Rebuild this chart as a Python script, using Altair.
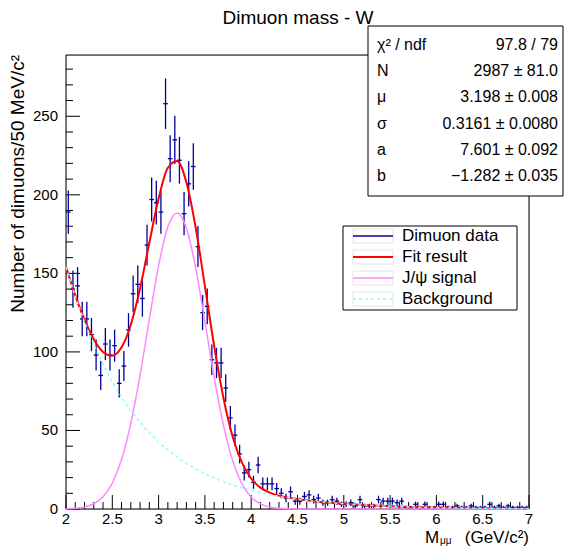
import altair as alt
import pandas as pd
import numpy as np

# ---------------- data ----------------
bin_low = 2.0
bin_width = 0.05
counts = [189, 140, 142, 121, 121, 111, 98, 85, 105, 98, 104, 80, 91, 114, 137, 143, 134, 168, 197, 195,
          189, 258, 223, 235, 222, 188, 207, 218, 167, 125, 129, 95, 93, 93, 77, 58, 47, 35, 23, 25,
          17, 28, 16, 16, 16, 13, 10, 7, 11, 5, 5, 8, 9, 6, 7, 4, 4, 6, 5, 3,
          3, 4, 2, 6, 2, 2, 2, 6, 5, 5, 5, 4, 5, 1, 1, 3, 1, 3, 1, 1,
          3, 3, 1, 1, 2, 1, 1, 2, 1, 1, 1, 3, 1, 2, 1, 2, 1, 1, 1, 1]

curve_x = [2.0, 2.1, 2.2, 2.3, 2.4, 2.5, 2.6, 2.7, 2.8, 2.9, 3.0, 3.1, 3.2, 3.3, 3.4, 3.5, 3.6,
           3.7, 3.8, 3.9, 4.0, 4.1, 4.2, 4.3, 4.4, 4.6, 4.8, 5.0, 5.25, 5.5, 5.75, 6.0, 6.5, 7.0]
fit_y = [154.1, 136.0, 120.5, 108.1, 100.0, 97.6, 102.9, 117.3, 140.5, 169.5, 197.6, 217.2, 221.6,
         208.0, 179.3, 141.9, 103.8, 70.8, 46.0, 29.5, 19.4, 13.6, 10.4, 8.5, 7.24,
         5.49, 4.25, 3.29, 2.39, 1.73, 1.26, 0.91, 0.48, 0.25]
signal_y = [0.14, 0.45, 1.29, 3.33, 7.78, 16.5, 31.5, 54.5, 85.3, 120.9, 154.9, 179.6, 188.5,
            178.9, 153.7, 119.4, 84.0, 53.4, 30.7, 16.0, 7.54, 3.22, 1.24, 0.43, 0.14,
            0, 0, 0, 0, 0, 0, 0, 0, 0]
background_y = [154.0, 135.5, 119.2, 104.8, 92.2, 81.1, 71.4, 62.8, 55.2, 48.6, 42.7, 37.6, 33.1,
                29.1, 25.6, 22.5, 19.8, 17.4, 15.3, 13.5, 11.9, 10.4, 9.18, 8.07, 7.10,
                5.49, 4.25, 3.29, 2.39, 1.73, 1.26, 0.91, 0.48, 0.25]

stat_names = ["χ² / ndf", "N", "μ", "σ", "a", "b"]
stat_values = ["97.8 / 79", "2987 ± 81.0", "3.198 ± 0.008", "0.3161 ± 0.0080",
               "7.601 ± 0.092", "−1.282 ± 0.035"]
legend_labels = ["Dimuon data", "Fit result", "J/ψ signal", "Background"]
legend_colors = ["#000099", "#ff0000", "#ff88ff", "#88ffff"]

x_major = [2, 2.5, 3, 3.5, 4, 4.5, 5, 5.5, 6, 6.5, 7]
x_labels = ["2", "2.5", "3", "3.5", "4", "4.5", "5", "5.5", "6", "6.5", "7"]
y_major = [0, 50, 100, 150, 200, 250]
y_labels = ["0", "50", "100", "150", "200", "250"]
title_text = "Dimuon mass - W"
y_title = "Number of dimuons/50 MeV/c²"

# ---------------- layout ----------------
W, H = 463, 454
FONT = "Liberation Sans"
DATA_BLUE = "#000099"

centers = bin_low + bin_width * (np.arange(len(counts)) + 0.5)
hist = pd.DataFrame({"x": centers, "n": counts})
hist["err"] = np.sqrt(hist["n"])
hist["lo"] = hist["n"] - hist["err"]
hist["hi"] = hist["n"] + hist["err"]
hist["xl"] = hist["x"] - bin_width / 2
hist["xr"] = hist["x"] + bin_width / 2

curves = pd.DataFrame({"x": curve_x, "fit": fit_y, "sig": signal_y, "bkg": background_y})

xs = alt.Scale(domain=[2, 7], nice=False, zero=False)
ys = alt.Scale(domain=[0, 289], nice=False, zero=True)

one = pd.DataFrame({"a": [0]})

frame = alt.Chart(one).mark_rect(fillOpacity=0, stroke="black", strokeWidth=1).encode(
    x=alt.value(0), x2=alt.value(W), y=alt.value(0), y2=alt.value(H))

# tick marks (inward, ROOT style)
x_minor = [round(v, 2) for v in np.arange(2.0, 7.0001, 0.1) if abs(v * 2 - round(v * 2)) > 1e-6]
y_minor = [v for v in range(0, 290, 10) if v % 50 != 0]
xt_major = alt.Chart(pd.DataFrame({"t": x_major})).mark_rule(color="black").encode(
    x=alt.X("t:Q", scale=xs, axis=None), y=alt.value(H), y2=alt.value(H - 14))
xt_minor = alt.Chart(pd.DataFrame({"t": x_minor})).mark_rule(color="black").encode(
    x=alt.X("t:Q", scale=xs, axis=None), y=alt.value(H), y2=alt.value(H - 7))
yt_major = alt.Chart(pd.DataFrame({"t": y_major})).mark_rule(color="black").encode(
    y=alt.Y("t:Q", scale=ys, axis=None), x=alt.value(0), x2=alt.value(14))
yt_minor = alt.Chart(pd.DataFrame({"t": y_minor})).mark_rule(color="black").encode(
    y=alt.Y("t:Q", scale=ys, axis=None), x=alt.value(0), x2=alt.value(7))

# tick labels
xlab = alt.Chart(pd.DataFrame({"t": x_major, "s": x_labels})).mark_text(
    font=FONT, fontSize=15, align="center", baseline="middle").encode(
    x=alt.X("t:Q", scale=xs, axis=None), y=alt.value(H + 10), text="s:N")
ylab = alt.Chart(pd.DataFrame({"t": y_major, "s": y_labels})).mark_text(
    font=FONT, fontSize=15, align="right", baseline="middle").encode(
    y=alt.Y("t:Q", scale=ys, axis=None), x=alt.value(-8), text="s:N")

# data error bars
vbars = alt.Chart(hist).mark_rule(color=DATA_BLUE, strokeWidth=1.3).encode(
    x=alt.X("x:Q", scale=xs, axis=None),
    y=alt.Y("lo:Q", scale=ys, axis=None), y2="hi:Q")
hbars = alt.Chart(hist).mark_rule(color=DATA_BLUE, strokeWidth=1.3).encode(
    x=alt.X("xl:Q", scale=xs, axis=None), x2="xr:Q",
    y=alt.Y("n:Q", scale=ys, axis=None))

fit_line = alt.Chart(curves).mark_line(color="#ff0000", strokeWidth=2, interpolate="monotone").encode(
    x=alt.X("x:Q", scale=xs, axis=None), y=alt.Y("fit:Q", scale=ys, axis=None))
sig_line = alt.Chart(curves).mark_line(color="#ff88ff", strokeWidth=1.5, interpolate="monotone").encode(
    x=alt.X("x:Q", scale=xs, axis=None), y=alt.Y("sig:Q", scale=ys, axis=None))
bkg_line = alt.Chart(curves).mark_line(color="#88ffff", strokeWidth=1.5, strokeDash=[3, 3],
                                       interpolate="monotone").encode(
    x=alt.X("x:Q", scale=xs, axis=None), y=alt.Y("bkg:Q", scale=ys, axis=None))

layers = [frame, xt_major, xt_minor, yt_major, yt_minor, xlab, ylab,
          vbars, hbars, fit_line, sig_line, bkg_line]

# title and axis titles
layers.append(alt.Chart(one).mark_text(text=title_text, font=FONT, fontSize=19, align="center",
                                       baseline="middle").encode(x=alt.value(232), y=alt.value(-37)))
layers.append(alt.Chart(one).mark_text(text=y_title, font=FONT, fontSize=19, align="right",
                                       baseline="middle", angle=270).encode(
    x=alt.value(-48), y=alt.value(0)))
layers.append(alt.Chart(one).mark_text(text="M", font=FONT, fontSize=17, align="left",
                                       baseline="middle").encode(x=alt.value(359), y=alt.value(483)))
layers.append(alt.Chart(one).mark_text(text="μμ", font=FONT, fontSize=10, align="left",
                                       baseline="middle").encode(x=alt.value(374), y=alt.value(486)))
layers.append(alt.Chart(one).mark_text(text="(GeV/c²)", font=FONT, fontSize=17, align="right",
                                       baseline="middle").encode(x=alt.value(W), y=alt.value(483)))

# stats box
layers.append(alt.Chart(one).mark_rect(fill="white", stroke="black", strokeWidth=1).encode(
    x=alt.value(302), x2=alt.value(497), y=alt.value(-29), y2=alt.value(141)))
for i, (nm, val) in enumerate(zip(stat_names, stat_values)):
    yy = -10 + 26.2 * i
    layers.append(alt.Chart(one).mark_text(text=nm, font=FONT, fontSize=16, align="left",
                                           baseline="middle").encode(x=alt.value(311), y=alt.value(yy)))
    layers.append(alt.Chart(one).mark_text(text=val, font=FONT, fontSize=16, align="right",
                                           baseline="middle").encode(x=alt.value(492), y=alt.value(yy)))

# legend box
layers.append(alt.Chart(one).mark_rect(fill="white", stroke="black", strokeWidth=1).encode(
    x=alt.value(277), x2=alt.value(451), y=alt.value(171), y2=alt.value(255)))
for i, (lab, col) in enumerate(zip(legend_labels, legend_colors)):
    yy = 181 + 21 * i
    layers.append(alt.Chart(one).mark_rect(fillOpacity=0, stroke="#e4e4e4", strokeWidth=1).encode(
        x=alt.value(287), x2=alt.value(327), y=alt.value(yy - 7), y2=alt.value(yy + 7)))
    rule_kw = dict(color=col, strokeWidth=2 if i == 1 else 1.5)
    if i == 3:
        rule_kw["strokeDash"] = [3, 3]
    layers.append(alt.Chart(one).mark_rule(**rule_kw).encode(
        x=alt.value(287), x2=alt.value(327), y=alt.value(yy)))
    layers.append(alt.Chart(one).mark_text(text=lab, font=FONT, fontSize=17, align="left",
                                           baseline="middle").encode(x=alt.value(336), y=alt.value(yy)))

chart = alt.layer(*layers).properties(
    width=W, height=H,
    autosize=alt.AutoSizeParams(type="none"),
    padding={"left": 58, "top": 47, "right": 36, "bottom": 40},
).configure_view(stroke=None).configure(background="white")

chart.save("out.html", embed_options={"renderer": "svg", "actions": False})
